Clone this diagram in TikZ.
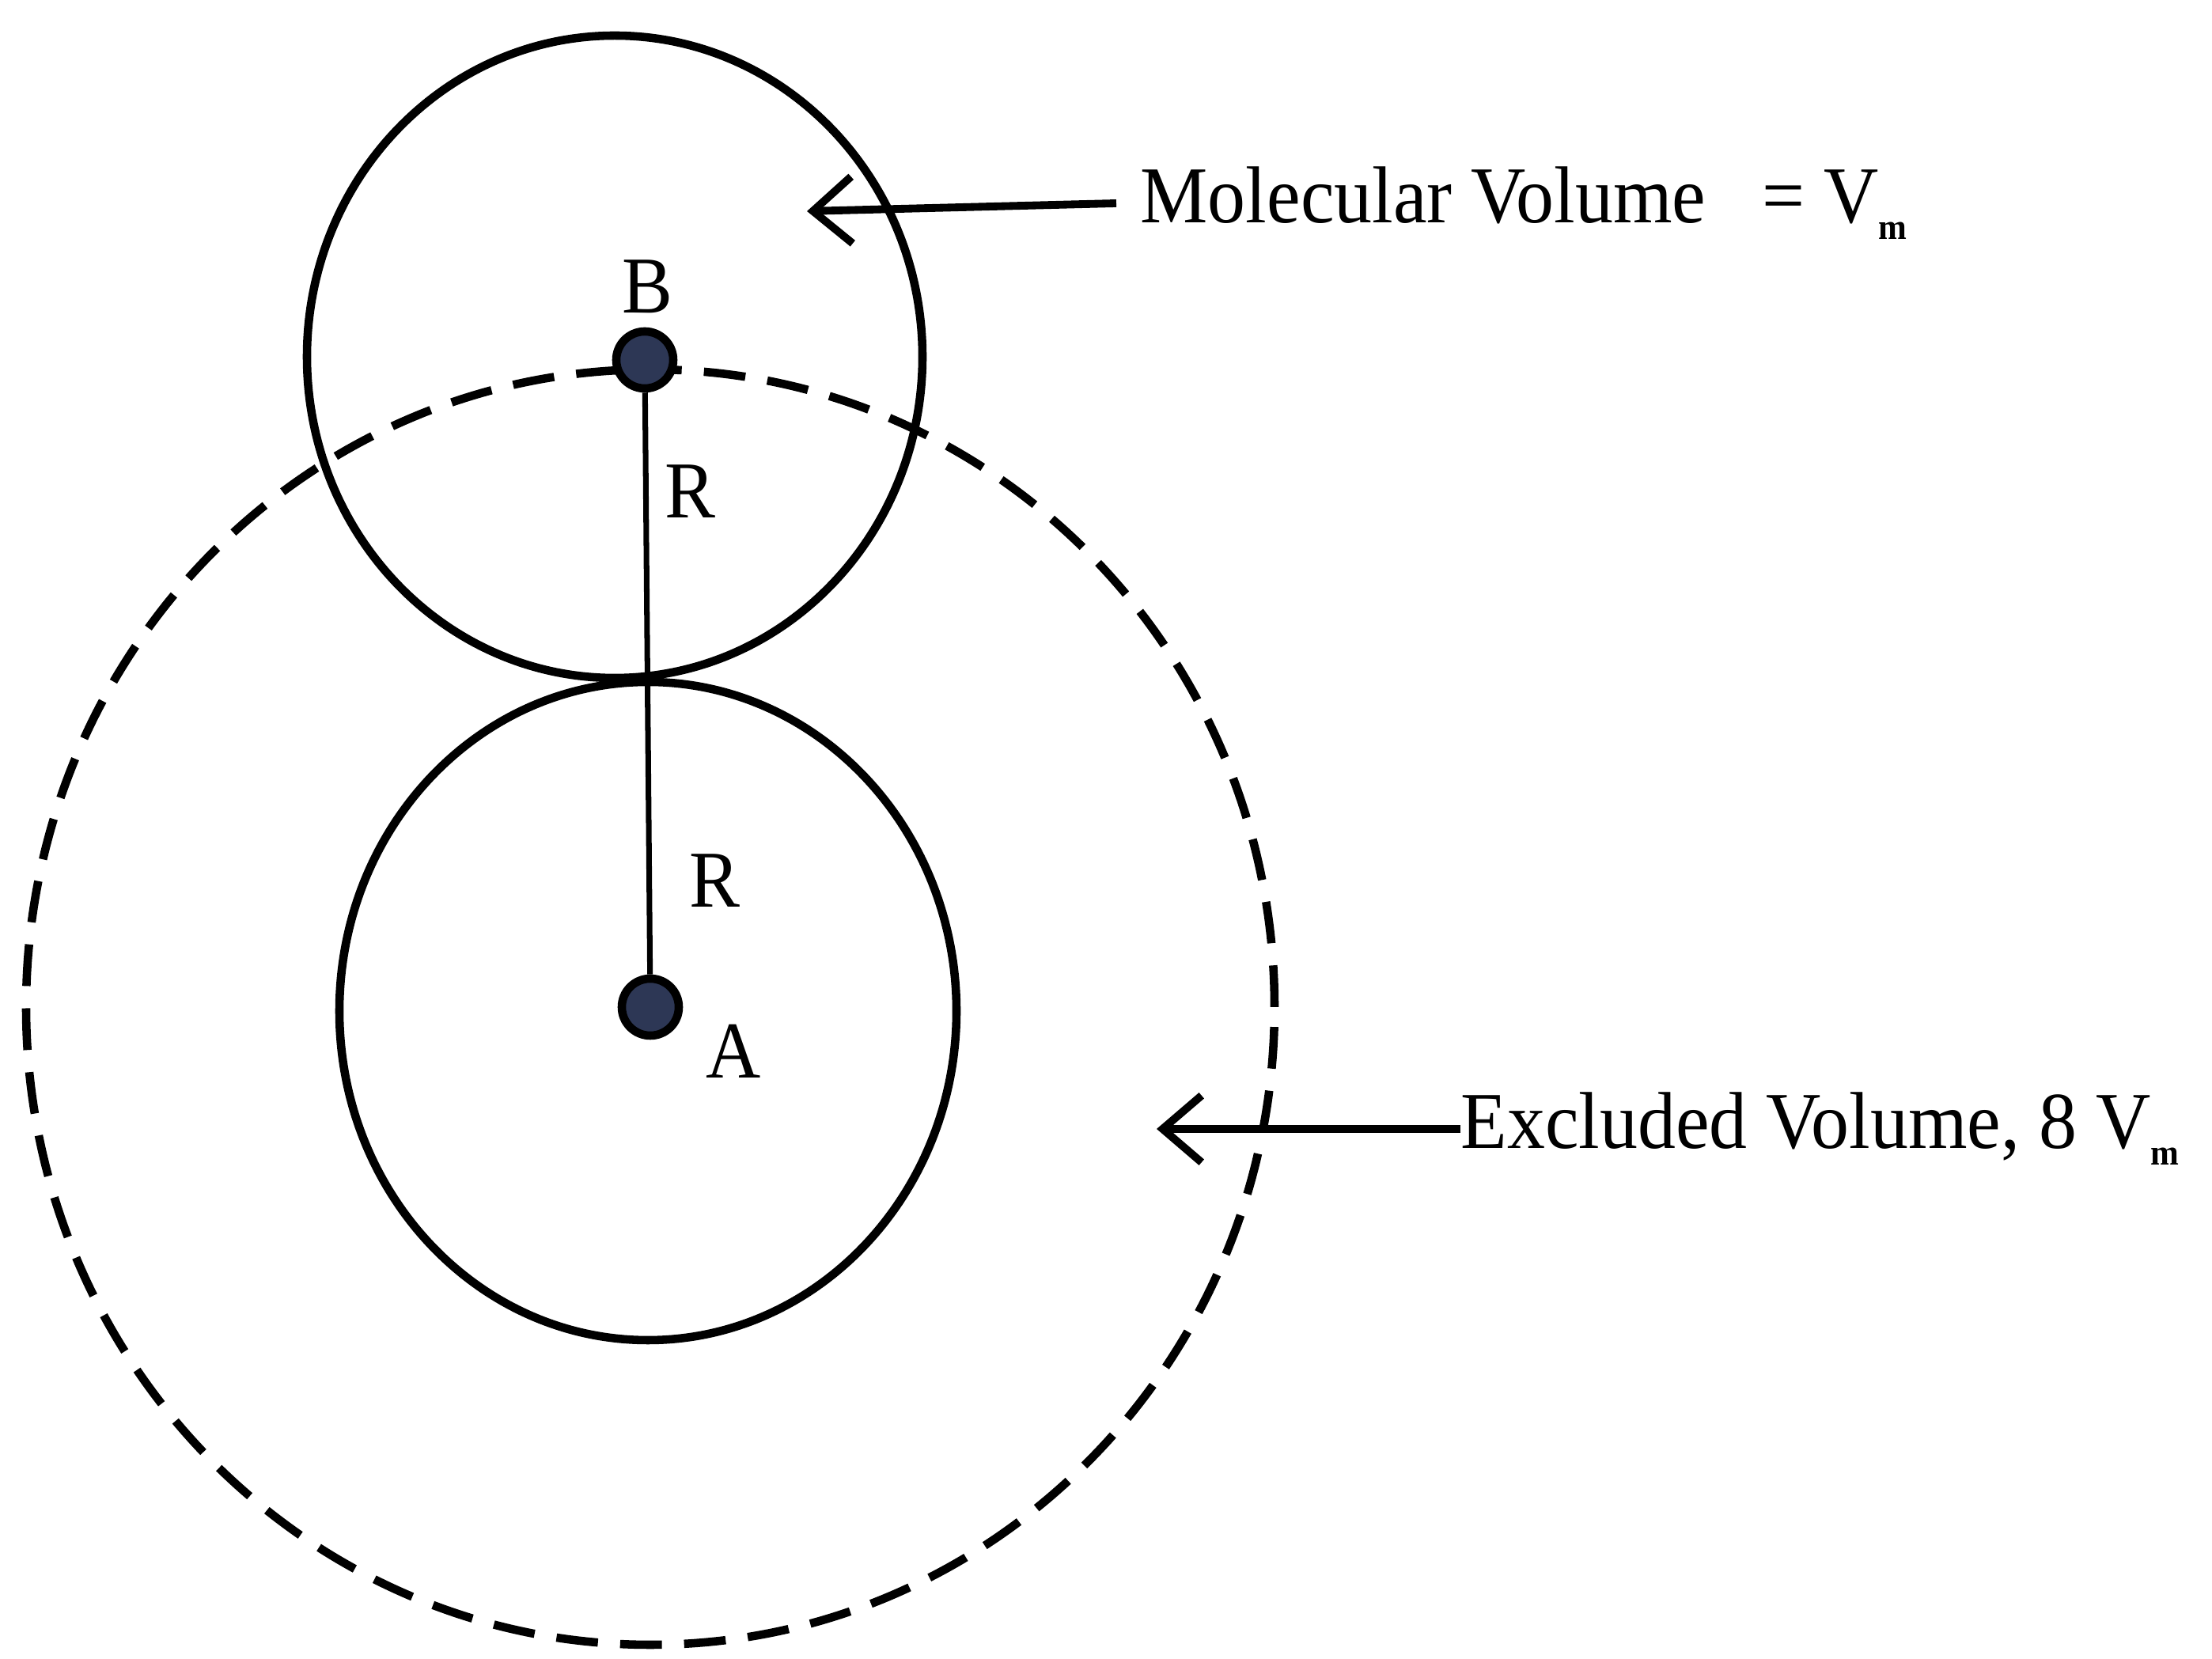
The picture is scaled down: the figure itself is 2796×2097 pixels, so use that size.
\documentclass[tikz,border=0pt]{standalone}
\usepackage{fontspec}
\setmainfont{Liberation Serif}
\newfontfamily\lblfont[FakeStretch=0.94]{Liberation Serif}
\newcommand{\subm}{\raisebox{-0.45ex}{\fontsize{13}{13}\selectfont\bfseries m}}
\usetikzlibrary{arrows.meta}
\begin{document}
\begin{tikzpicture}[x=0.01cm,y=0.01cm,
  molecule/.style={draw=black,line width=3pt},
  excluded/.style={draw=black,line width=3pt,dash pattern=on 15pt off 8pt},
  centre/.style={circle,draw=black,line width=3pt,fill={rgb,255:red,45;green,55;blue,85},minimum size=0.72cm,inner sep=0pt},
  lbl/.style={font=\lblfont\fontsize{29}{34}\selectfont,inner sep=0pt},
  pointer/.style={line width=2.8pt,-{Straight Barb[length=14pt,width=24pt,line width=2.8pt]}}
]
\useasboundingbox (0,0) rectangle (2796,2097);
\fill[white] (0,0) rectangle (2796,2097);
% spheres
\draw[molecule] (777,1646) ellipse [x radius=389,y radius=406];
\draw[molecule] (819,819) ellipse [x radius=390,y radius=416];
\draw[excluded] (822,824) ellipse [x radius=789,y radius=806];
% centres
\node[centre] (B) at (815,1642) {};
\node[centre] (A) at (822,824) {};
\draw[line width=2pt] (B) -- (A);
% labels
\node[lbl] (lB) at (818,1735) {B};
\node[lbl] (lR1) at (872,1476) {R};
\node[lbl] (lR2) at (903,984) {R};
\node[lbl] (lA) at (927,768) {A};
% pointers
\node[lbl,anchor=west] (mv) at (1441,1840) {Molecular Volume\hspace{0.7em}= V\subm};
\coordinate (mvtip) at (1020,1830);
\draw[pointer] ([xshift=-0.3cm]mv.west) -- (mvtip);
\node[lbl,anchor=west] (ev) at (1846,670) {Excluded Volume, 8 V\subm};
\coordinate (evtip) at (1462,670);
\draw[pointer] (ev.west) -- (evtip);
\end{tikzpicture}
\end{document}
